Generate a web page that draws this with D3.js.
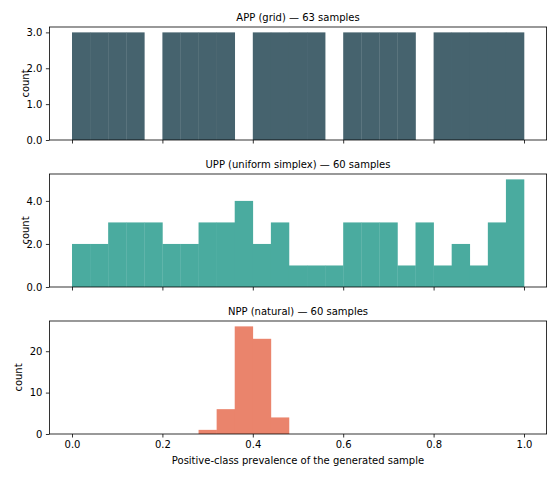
<!DOCTYPE html>
<html><head><meta charset="utf-8">
<script src="https://cdn.jsdelivr.net/npm/d3@7"></script>
<style>body{margin:0;background:#fff}text{font-family:"DejaVu Sans",sans-serif}</style>
</head><body><svg id="c" width="560" height="480"></svg>
<script>
const binWidth = 0.04;
const titles = ["APP (grid)  —  63 samples","UPP (uniform simplex)  —  60 samples","NPP (natural)  —  60 samples"];
const colors = ["#46636e","#4aab9f","#ea846c"];
const appCounts = [3,3,3,3,0,3,3,3,3,0,3,3,3,3,0,3,3,3,3,0,3,3,3,3,3];
const uppCounts = [2,2,3,3,3,2,2,3,3,4,2,3,1,1,1,3,3,3,1,3,1,2,1,3,5];
const nppCounts = [0,0,0,0,0,0,0,1,6,26,23,4,0,0,0,0,0,0,0,0,0,0,0,0,0];
const yTicks = [[0,1,2,3],[0,2,4],[0,10,20]];
const yMax = [3.15,5.25,27.3];
const xTicks = [0,0.2,0.4,0.6,0.8,1.0];
const series=[appCounts,uppCounts,nppCounts];
const svg=d3.select("#c");
const x=d3.scaleLinear().domain([-0.05,1.05]).range([49.4,546.6]);
const tops=[27,174,321], h=113;
series.forEach((counts,i)=>{
  const y=d3.scaleLinear().domain([0,yMax[i]]).range([tops[i]+h,tops[i]]);
  const g=svg.append("g");
  g.selectAll("rect").data(counts).enter().append("rect")
   .attr("x",(d,j)=>x(j*binWidth)).attr("width",(d,j)=>x((j+1)*binWidth)-x(j*binWidth)+0.3)
   .attr("y",d=>y(d)).attr("height",d=>y(0)-y(d)).attr("fill",colors[i]);
  const xa=g.append("g").attr("transform",`translate(0,${tops[i]+h})`)
   .call(d3.axisBottom(x).tickValues(xTicks).tickSize(3.5).tickPadding(3.5).tickFormat(i==2?d3.format(".1f"):()=>""));
  const ya=g.append("g").attr("transform",`translate(${x.range()[0]},0)`)
   .call(d3.axisLeft(y).tickValues(yTicks[i]).tickSize(3.5).tickPadding(3.5));
  [xa,ya].forEach(a=>{a.select(".domain").remove();a.selectAll("text").attr("font-size",10).attr("fill","#000");a.selectAll("line").attr("stroke","#000").attr("stroke-width",0.8);});
  g.append("rect").attr("x",x.range()[0]).attr("y",tops[i]).attr("width",x.range()[1]-x.range()[0]).attr("height",h)
   .attr("fill","none").attr("stroke","#000").attr("stroke-width",0.8);
  g.append("text").attr("x",(x.range()[0]+x.range()[1])/2).attr("y",tops[i]-6).attr("text-anchor","middle").attr("font-size",10).text(titles[i]);
  g.append("text").attr("transform",`translate(${i==2?22:29},${tops[i]+h/2}) rotate(-90)`).attr("text-anchor","middle").attr("font-size",10).text("count");
});
svg.append("text").attr("x",298).attr("y",464).attr("text-anchor","middle").attr("font-size",10).text("Positive-class prevalence of the generated sample");
</script></body></html>
